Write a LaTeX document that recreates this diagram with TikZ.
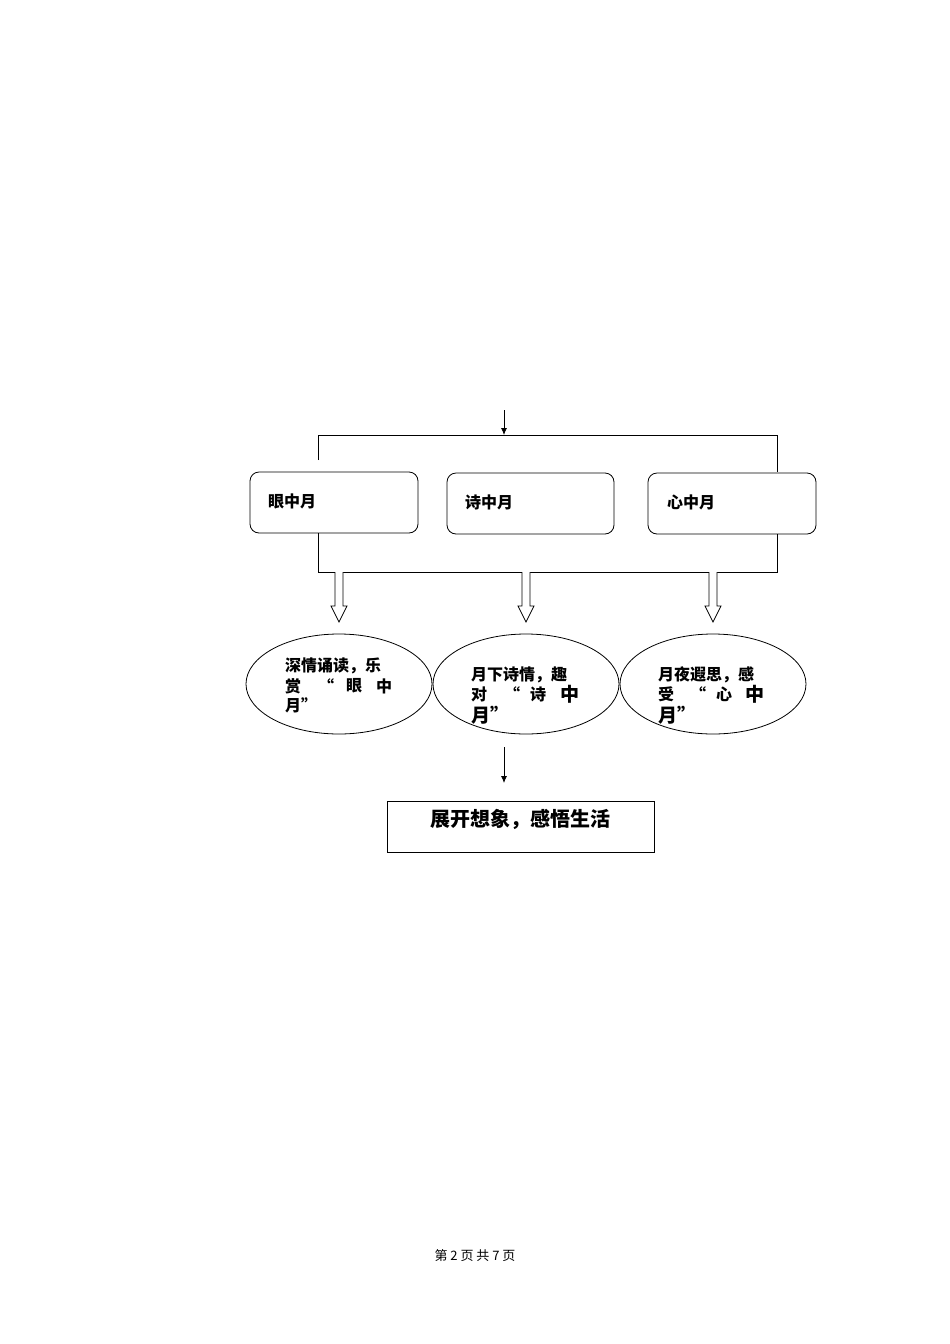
\documentclass[tikz,border=0pt]{standalone}
\usepackage{fontspec}
\newfontfamily\cjk{Noto Sans CJK SC}
\usetikzlibrary{arrows.meta}
\begin{document}
\begin{tikzpicture}[x=1pt,y=-1pt,
  ln/.style={draw=black,line width=0.8pt},
  arr/.style={ln,-{Latex[length=7pt,width=6pt]}},
  rbox/.style={ln,rounded corners=9pt},
  oval/.style={ln,ellipse,minimum width=186pt,minimum height=100pt},
  tx/.style={font=\cjk\bfseries\fontsize{16}{16}\selectfont,anchor=west,inner sep=0pt},
  txb/.style={font=\cjk\bfseries\fontsize{19}{19}\selectfont,anchor=west,inner sep=0pt}]
\useasboundingbox (0,0) rectangle (950,1344);
% top arrow
\coordinate (a0) at (504,410);
\coordinate (a1) at (504,435);
\draw[arr] (a0) -- (a1);
% brackets
\draw[ln] (318,460) -- (318,435) -- (777,435) -- (777,472);
\draw[ln] (318,533) -- (318,572) -- (777,572) -- (777,534);
% boxes
\draw[rbox] (250,472) rectangle (418,533);
\draw[rbox] (447,473) rectangle (614,534);
\draw[rbox] (648,473) rectangle (816,534);
\node[tx] (b1) at (268,501) {眼中月};
\node[tx] (b2) at (465,502) {诗中月};
\node[tx] (b3) at (667,502) {心中月};
% hollow arrows
\foreach \x in {339,526,713}{
  \draw[ln,fill=white] (\x-4,572) -- (\x-4,606) -- (\x-8,606) -- (\x,622) -- (\x+8,606) -- (\x+4,606) -- (\x+4,572);
}
% ellipses
\draw[ln] (339,684) ellipse (93 and 50);
\draw[ln] (526,684) ellipse (93 and 50);
\draw[ln] (713,684) ellipse (93 and 50);
% ellipse texts
\node[tx] (e11) at (285,666) {深情诵读，乐};
\node[tx] at (285,686) {赏};
\node[tx] at (318,686) {“};
\node[tx] at (346,686) {眼};
\node[tx] at (376,686) {中};
\node[tx] at (285,705) {月”};
\node[tx] (e21) at (471,675) {月下诗情，趣};
\node[tx] at (471,694) {对};
\node[tx] at (504,694) {“};
\node[tx] at (530,694) {诗};
\node[txb] at (560,694) {中};
\node[txb] at (471,715) {月”};
\node[tx] (e31) at (658,675) {月夜遐思，感};
\node[tx] at (658,694) {受};
\node[tx] at (690,694) {“};
\node[tx] at (716,694) {心};
\node[txb] at (745,694) {中};
\node[txb] at (658,715) {月”};
% bottom arrow
\coordinate (c0) at (504,747);
\coordinate (c1) at (504,783);
\draw[arr] (c0) -- (c1);
\draw[ln] (387,801) rectangle (654,852);
\node[font=\cjk\bfseries\fontsize{20}{20}\selectfont,inner sep=0pt] (fin) at (520,819) {展开想象，感悟生活};
\node[font=\cjk\fontsize{13}{13}\selectfont,inner sep=0pt] (ft) at (475,1256) {第 2 页 共 7 页};
\end{tikzpicture}
\end{document}
